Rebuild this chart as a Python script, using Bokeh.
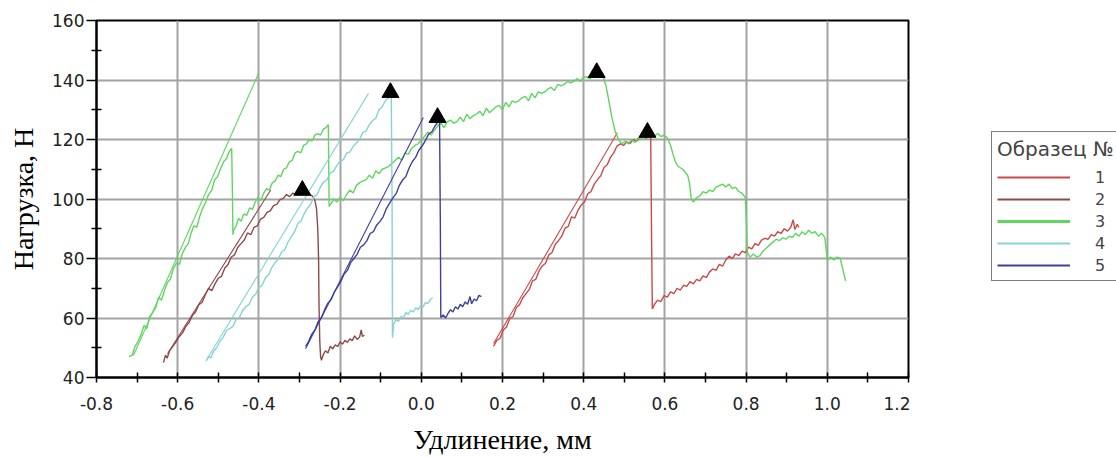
from bokeh.plotting import figure
from bokeh.layouts import row
from bokeh.models import Legend, LegendItem, FixedTicker, Range1d
from bokeh.embed import file_html
from bokeh.resources import INLINE

# ---------------- data ----------------
x_ticks = [-0.8, -0.6, -0.4, -0.2, 0.0, 0.2, 0.4, 0.6, 0.8, 1.0, 1.2]
x_tick_labels = ["-0.8", "-0.6", "-0.4", "-0.2", "0.0", "0.2", "0.4", "0.6", "0.8", "1.0", "1.2"]
x_minor = [-0.7, -0.5, -0.3, -0.1, 0.1, 0.3, 0.5, 0.7, 0.9, 1.1]
y_ticks = [40, 60, 80, 100, 120, 140, 160]
y_minor = [50, 70, 90, 110, 130, 150]

series_names = ["1", "2", "3", "4", "5"]
series_colors = ["#c94a4a", "#8e4a4a", "#5fd65f", "#86d3d3", "#3f3f9c"]

# specimen 1 (red)
s1_x = [0.178, 0.186, 0.194, 0.202, 0.210, 0.218, 0.226, 0.234, 0.242, 0.250, 0.258, 0.266, 0.274, 0.282,
        0.290, 0.298, 0.306, 0.314, 0.322, 0.330, 0.338, 0.346, 0.354, 0.362, 0.370, 0.378, 0.386, 0.394,
        0.402, 0.410, 0.418, 0.426, 0.434, 0.442, 0.450, 0.458, 0.466, 0.474, 0.482, 0.490, 0.498, 0.506,
        0.514, 0.522, 0.530, 0.538, 0.546, 0.554, 0.560, 0.565, 0.567, 0.569, 0.574, 0.582, 0.590, 0.598,
        0.606, 0.614, 0.622, 0.630, 0.638, 0.646, 0.654, 0.662, 0.670, 0.678, 0.686, 0.694, 0.702, 0.710,
        0.718, 0.726, 0.734, 0.742, 0.750, 0.758, 0.766, 0.774, 0.782, 0.790, 0.798, 0.806, 0.814, 0.822,
        0.830, 0.838, 0.846, 0.854, 0.862, 0.870, 0.878, 0.886, 0.894, 0.902, 0.910, 0.916, 0.920, 0.926, 0.930]
s1_y = [50.5, 52.5, 53.2, 56.0, 57.0, 59.8, 60.5, 63.5, 64.5, 66.8, 68.2, 69.6, 72.5, 73.0,
        75.8, 77.5, 78.4, 81.2, 82.0, 84.8, 86.0, 87.5, 90.2, 90.8, 94.0, 93.6, 96.2, 98.0,
        99.0, 101.8, 102.5, 105.0, 106.5, 107.8, 110.6, 111.5, 114.0, 115.5, 117.8, 118.5, 118.0, 119.2,
        118.6, 120.0, 119.4, 120.6, 121.0, 120.4, 121.2, 120.5, 90.0, 63.0, 64.5, 66.0, 65.5, 67.5,
        67.0, 68.8, 68.2, 70.0, 69.4, 71.0, 70.6, 72.2, 71.5, 73.0, 72.5, 74.2, 73.6, 75.5,
        76.5, 76.0, 78.0, 77.4, 79.5, 80.8, 80.0, 81.6, 81.0, 82.5, 82.0, 83.8, 83.2, 85.0,
        84.4, 86.2, 86.8, 86.4, 88.0, 87.5, 89.0, 88.4, 90.0, 89.2, 90.5, 93.0, 89.8, 91.5, 90.4]
s1_fit_x = [0.178, 0.483]
s1_fit_y = [51.4, 122.3]

# specimen 2 (brown)
s2_x = [-0.635, -0.630, -0.626, -0.620, -0.612, -0.604, -0.596, -0.588, -0.580, -0.572, -0.564, -0.556,
        -0.548, -0.540, -0.532, -0.524, -0.516, -0.508, -0.500, -0.492, -0.484, -0.476, -0.468, -0.460,
        -0.452, -0.444, -0.436, -0.428, -0.420, -0.412, -0.404, -0.396, -0.388, -0.380, -0.372, -0.364,
        -0.356, -0.348, -0.340, -0.332, -0.324, -0.316, -0.308, -0.300, -0.292, -0.284, -0.276, -0.268,
        -0.262, -0.258, -0.255, -0.253, -0.252, -0.250, -0.248, -0.246, -0.242, -0.236, -0.230, -0.224,
        -0.218, -0.212, -0.206, -0.200, -0.194, -0.188, -0.182, -0.176, -0.170, -0.164, -0.158, -0.152,
        -0.148, -0.145, -0.140]
s2_y = [45.0, 47.5, 46.5, 49.0, 50.5, 52.0, 53.8, 55.0, 57.2, 58.5, 60.8, 62.0,
        64.5, 65.2, 67.8, 70.0, 69.2, 71.5, 73.4, 74.0, 76.8, 78.0, 80.5, 81.2,
        83.8, 85.0, 86.2, 88.6, 88.0, 90.5, 91.0, 93.2, 93.8, 95.5, 96.0, 97.8,
        98.2, 99.8, 100.2, 101.5, 100.8, 102.0, 101.5, 102.5, 101.8, 102.4, 101.6, 101.0,
        99.5, 96.5, 90.0, 80.0, 65.0, 52.0, 47.0, 45.8, 47.5, 49.0, 48.2, 50.5,
        49.6, 51.0, 50.4, 52.0, 51.2, 52.5, 51.8, 53.0, 52.4, 54.0, 52.8, 53.6,
        56.0, 53.8, 54.2]
s2_fit_x = [-0.625, -0.371]
s2_fit_y = [48.0, 103.0]

# specimen 3 (green)
s3_x = [-0.720, -0.712, -0.705, -0.698, -0.690, -0.683, -0.676, -0.669, -0.661, -0.654, -0.647, -0.640,
        -0.632, -0.625, -0.618, -0.611, -0.603, -0.596, -0.589, -0.582, -0.574, -0.567, -0.560, -0.553,
        -0.545, -0.538, -0.531, -0.524, -0.516, -0.509, -0.502, -0.495, -0.487, -0.480, -0.473, -0.467,
        -0.465, -0.464,
        -0.462, -0.456, -0.450, -0.444, -0.437, -0.430, -0.423, -0.416, -0.409, -0.402, -0.395, -0.388,
        -0.381, -0.374, -0.367, -0.360, -0.353, -0.346, -0.339, -0.332, -0.325, -0.318, -0.311, -0.304,
        -0.297, -0.290, -0.283, -0.276, -0.269, -0.262, -0.255, -0.248, -0.241, -0.235, -0.229,
        -0.228, -0.227,
        -0.222, -0.215, -0.208, -0.200, -0.192, -0.184, -0.176, -0.168, -0.160, -0.152, -0.144, -0.136,
        -0.128, -0.120, -0.112, -0.104, -0.096, -0.088, -0.080, -0.072, -0.064, -0.056, -0.048, -0.040,
        -0.032, -0.024, -0.016, -0.008, 0.000, 0.008, 0.016, 0.024, 0.032, 0.040, 0.048, 0.056,
        0.064, 0.072, 0.080, 0.088, 0.096, 0.104, 0.112, 0.120, 0.128, 0.136, 0.144, 0.152,
        0.160, 0.168, 0.176, 0.184, 0.192, 0.200, 0.208, 0.216, 0.224, 0.232, 0.240, 0.248,
        0.256, 0.264, 0.272, 0.280, 0.288, 0.296, 0.304, 0.312, 0.320, 0.328, 0.336, 0.344,
        0.352, 0.360, 0.368, 0.376, 0.384, 0.392, 0.400, 0.408, 0.416, 0.424, 0.432, 0.440,
        0.448, 0.455, 0.462, 0.470, 0.478,
        0.486, 0.494, 0.502, 0.510, 0.518, 0.526, 0.534, 0.542, 0.550, 0.558, 0.566, 0.574,
        0.582, 0.590, 0.598, 0.606, 0.614, 0.620, 0.626, 0.632, 0.638, 0.644, 0.650, 0.656,
        0.661, 0.665, 0.670, 0.678, 0.686, 0.694, 0.702, 0.710, 0.718, 0.726, 0.734, 0.742,
        0.750, 0.758, 0.766, 0.774, 0.782, 0.790, 0.798, 0.801, 0.803, 0.810, 0.818, 0.826,
        0.834, 0.842, 0.850, 0.858, 0.866, 0.874, 0.882, 0.890, 0.898, 0.906, 0.914, 0.922,
        0.930, 0.938, 0.946, 0.954, 0.962, 0.970, 0.978, 0.986, 0.994, 0.998, 1.000, 1.008,
        1.016, 1.024, 1.032, 1.038, 1.045]
s3_y = [47.0, 47.5, 50.5, 52.0, 54.5, 57.5, 56.5, 60.5, 62.0, 63.5, 67.0, 66.0,
        69.5, 72.0, 73.0, 76.5, 78.5, 78.0, 81.5, 83.5, 85.0, 88.5, 91.0, 90.5,
        94.5, 97.0, 99.0, 101.5, 103.0, 106.5, 107.5, 110.0, 112.5, 113.5, 116.0, 117.0,
        100.0, 88.0,
        89.5, 91.0, 93.5, 92.5, 95.0, 94.5, 97.0, 96.5, 99.0, 100.5, 99.5, 102.0,
        103.5, 103.0, 105.5, 106.0, 108.0, 107.5, 110.0, 110.5, 112.5, 113.0, 115.5, 116.0,
        115.5, 118.0, 118.5, 120.0, 119.5, 121.5, 122.0, 121.5, 123.5, 124.0, 125.0,
        110.0, 97.5,
        98.5, 100.0, 99.0, 100.5, 99.5, 101.5, 103.0, 102.0, 104.5, 105.5, 106.0, 106.5,
        108.0, 107.0, 109.5, 108.5, 110.0, 110.5, 111.0, 112.0, 113.0, 114.0, 113.0, 115.5,
        115.0, 117.0, 118.0, 118.5, 120.0, 121.0, 122.5, 121.5, 123.0, 124.5, 125.5, 124.0,
        126.0, 126.5, 125.5, 126.0, 127.5, 126.0, 128.5, 127.0, 128.0, 128.5, 129.5, 128.0,
        130.5, 129.0, 130.0, 131.0, 131.5, 130.0, 132.5, 131.0, 133.0, 132.5, 133.0, 134.0,
        134.5, 133.0, 135.5, 134.0, 136.0, 135.5, 136.0, 137.0, 137.5, 136.5, 138.5, 138.0,
        138.5, 139.5, 139.0, 139.5, 140.5, 139.5, 141.0, 141.0, 140.5, 141.5, 142.0, 141.5,
        141.0, 138.0, 133.0, 127.0, 122.5,
        120.0, 118.5, 119.5, 118.5, 120.0, 119.0, 120.5, 120.0, 121.0, 120.5, 122.0, 121.0,
        122.0, 121.0, 121.5, 120.5, 118.0, 115.0, 112.5, 111.0, 110.5, 110.0, 109.0, 108.0,
        105.0, 100.0, 99.0, 100.5, 101.0, 102.5, 102.0, 103.0, 102.5, 104.0, 104.5, 105.0,
        104.0, 105.0, 103.5, 104.0, 102.5, 102.0, 100.5, 92.0, 82.0, 80.5, 81.5, 80.5,
        81.0, 82.5, 83.5, 84.5, 85.5, 86.5, 86.0, 87.0, 86.5, 87.5, 87.0, 88.5,
        87.5, 89.0, 88.0, 89.5, 88.5, 89.0, 87.5, 88.5, 87.0, 82.0, 79.5, 80.5,
        79.5, 80.5, 80.0, 76.5, 72.5]
s3_fit_x = [-0.709, -0.401]
s3_fit_y = [47.4, 142.2]

# specimen 4 (cyan)
s4_x = [-0.530, -0.524, -0.518, -0.512, -0.504, -0.496, -0.488, -0.480, -0.472, -0.464, -0.456, -0.448,
        -0.440, -0.432, -0.424, -0.416, -0.408, -0.400, -0.392, -0.384, -0.376, -0.368, -0.360, -0.352,
        -0.344, -0.336, -0.328, -0.320, -0.312, -0.304, -0.296, -0.288, -0.280, -0.272, -0.264, -0.256,
        -0.248, -0.240, -0.232, -0.224, -0.216, -0.208, -0.200, -0.192, -0.184, -0.176, -0.168, -0.160,
        -0.152, -0.144, -0.136, -0.128, -0.120, -0.112, -0.104, -0.096, -0.088, -0.080, -0.074, -0.072,
        -0.071, -0.068, -0.062, -0.056, -0.050, -0.044, -0.038, -0.032, -0.026, -0.020, -0.014, -0.008,
        -0.002, 0.004, 0.010, 0.016, 0.022, 0.028]
s4_y = [45.5, 47.0, 46.6, 48.8, 50.0, 52.2, 53.5, 55.8, 56.4, 57.2, 59.5, 60.2,
        62.5, 63.8, 64.6, 67.0, 68.0, 70.2, 71.0, 73.5, 74.6, 77.0, 78.6, 80.0,
        82.2, 83.0, 85.6, 87.4, 89.0, 91.8, 92.6, 95.2, 97.0, 98.4, 100.8, 101.6,
        104.2, 105.8, 106.6, 108.8, 109.4, 111.2, 112.6, 113.2, 115.4, 115.8, 117.6, 118.8,
        120.0, 122.4, 122.8, 125.0, 126.4, 127.2, 130.0, 131.0, 133.2, 134.0, 135.0, 100.0,
        53.4, 58.0, 59.5, 58.8, 60.6, 60.0, 61.8, 61.2, 62.6, 62.0, 63.4, 62.8,
        64.0, 63.6, 65.2, 64.8, 66.2, 66.8]
s4_fit_x = [-0.527, -0.130]
s4_fit_y = [46.4, 135.5]

# specimen 5 (blue)
s5_x = [-0.285, -0.278, -0.270, -0.262, -0.254, -0.246, -0.238, -0.230, -0.222, -0.214, -0.206, -0.198,
        -0.190, -0.182, -0.174, -0.166, -0.158, -0.150, -0.142, -0.134, -0.126, -0.118, -0.110, -0.102,
        -0.094, -0.086, -0.078, -0.070, -0.062, -0.054, -0.046, -0.038, -0.030, -0.022, -0.014, -0.006,
        0.002, 0.010, 0.018, 0.026, 0.034, 0.040, 0.045, 0.047, 0.048, 0.054, 0.060, 0.066,
        0.072, 0.078, 0.084, 0.090, 0.096, 0.102, 0.108, 0.114, 0.120, 0.124, 0.130, 0.136,
        0.142, 0.148]
s5_y = [50.5, 52.0, 54.5, 56.0, 58.8, 60.2, 62.8, 65.0, 66.2, 68.8, 70.5, 72.4,
        74.8, 76.0, 78.6, 80.0, 81.4, 83.8, 84.6, 86.0, 88.4, 89.0, 91.2, 92.4,
        94.0, 96.8, 98.6, 100.4, 101.8, 104.6, 106.4, 107.6, 110.4, 112.6, 114.0, 116.4,
        117.8, 119.6, 121.8, 122.6, 124.6, 125.8, 126.0, 90.0, 60.2, 61.0, 60.0, 61.6,
        62.8, 62.0, 63.8, 63.0, 64.6, 63.8, 65.4, 64.6, 67.2, 64.8, 66.4, 65.8,
        67.6, 67.2]
s5_fit_x = [-0.285, 0.005]
s5_fit_y = [49.7, 127.4]

# peak markers
peak_x = [-0.293, -0.076, 0.040, 0.432, 0.557]
peak_y = [102.9, 135.8, 127.4, 142.5, 122.4]

# ---------------- main figure ----------------
p = figure(width=910, height=457, x_range=Range1d(-0.8, 1.2), y_range=Range1d(40, 160),
           output_backend="svg", toolbar_location=None,
           min_border_left=96, min_border_right=2, min_border_top=20, min_border_bottom=79)
p.background_fill_color = "white"
p.border_fill_color = "white"
p.outline_line_color = "black"
p.outline_line_width = 2
p.outline_line_alpha = 1.0

xt = FixedTicker(ticks=x_ticks, minor_ticks=x_minor)
yt = FixedTicker(ticks=y_ticks, minor_ticks=y_minor)
p.xaxis.ticker = xt
p.yaxis.ticker = yt
p.xgrid.ticker = xt
p.ygrid.ticker = yt
p.xaxis.major_label_overrides = {t: l for t, l in zip(x_ticks, x_tick_labels)}
p.yaxis.major_label_overrides = {t: str(t) for t in y_ticks}

for g in (p.xgrid, p.ygrid):
    g.grid_line_color = "#a3a3a3"
    g.grid_line_width = 2

for ax in (p.xaxis, p.yaxis):
    ax.axis_line_color = "black"
    ax.axis_line_width = 2
    ax.major_tick_line_color = "black"
    ax.major_tick_line_width = 1.5
    ax.minor_tick_line_color = "black"
    ax.minor_tick_line_width = 1.5
    ax.major_label_text_font = "DejaVu Sans"
    ax.major_label_text_font_size = "17px"
    ax.major_label_text_color = "#222222"
    ax.axis_label_text_font = "Liberation Serif"
    ax.axis_label_text_font_size = "28px"
    ax.axis_label_text_font_style = "normal"
    ax.axis_label_text_color = "black"

p.xaxis.axis_label = "Удлинение, мм"
p.yaxis.axis_label = "Нагрузка, Н"
p.xaxis.major_tick_out = 5
p.xaxis.major_tick_in = 5
p.xaxis.minor_tick_out = 5
p.xaxis.minor_tick_in = 5
p.xaxis.major_label_standoff = 14
p.xaxis.axis_label_standoff = 11
p.yaxis.major_tick_out = 10
p.yaxis.major_tick_in = 0
p.yaxis.minor_tick_out = 5
p.yaxis.minor_tick_in = 5
p.yaxis.major_label_standoff = 2
p.yaxis.axis_label_standoff = 10

all_x = [s1_x, s2_x, s3_x, s4_x, s5_x]
all_y = [s1_y, s2_y, s3_y, s4_y, s5_y]
fit_x = [s1_fit_x, s2_fit_x, s3_fit_x, s4_fit_x, s5_fit_x]
fit_y = [s1_fit_y, s2_fit_y, s3_fit_y, s4_fit_y, s5_fit_y]

for name, col, xs, ys, fx, fy in zip(series_names, series_colors, all_x, all_y, fit_x, fit_y):
    p.line(fx, fy, line_color=col, line_width=1.1)
    p.line(xs, ys, line_color=col, line_width=1.4)

p.scatter(peak_x, peak_y, marker="triangle", size=17, fill_color="black", line_color="black")

# ---------------- legend panel ----------------
q = figure(width=206, height=457, x_range=Range1d(0, 1), y_range=Range1d(0, 1),
           output_backend="svg", toolbar_location=None, x_axis_type=None, y_axis_type=None,
           min_border_left=0, min_border_right=0, min_border_top=0, min_border_bottom=0)
q.outline_line_color = None
q.xgrid.visible = False
q.ygrid.visible = False
q.background_fill_color = "white"
q.border_fill_color = "white"

items = []
for name, col in zip(series_names, series_colors):
    lw = 3 if name == "3" else 2
    # legend swatches only: the line lies outside the visible range of this panel
    r = q.line([5, 6], [5, 6], line_color=col, line_width=lw)
    items.append(LegendItem(label=name, renderers=[r]))

legend = Legend(items=items, title="Образец №", location=(81, 96))
legend.border_line_color = "black"
legend.border_line_width = 1.5
legend.background_fill_alpha = 1.0
legend.padding = 5
legend.spacing = 2
legend.margin = 0
legend.glyph_width = 73
legend.glyph_height = 20
legend.label_height = 20
legend.label_width = 15
legend.label_standoff = 25
legend.title_standoff = 6
legend.title_text_font = "DejaVu Sans"
legend.title_text_font_style = "normal"
legend.title_text_font_size = "20px"
legend.label_text_font = "DejaVu Sans"
legend.label_text_font_size = "16px"
q.add_layout(legend)

layout = row(p, q, spacing=0)
open("out.html", "w").write(file_html(layout, INLINE))
